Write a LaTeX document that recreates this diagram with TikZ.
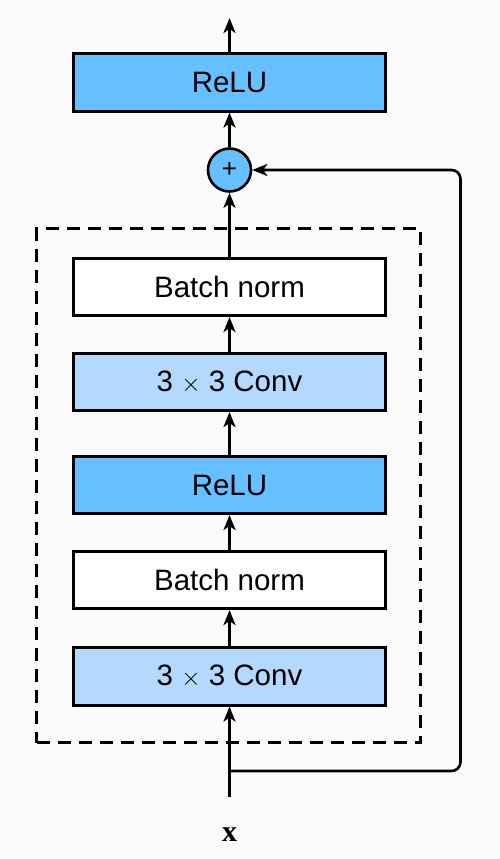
\documentclass[tikz,border=0pt]{standalone}
\usepackage[no-math]{fontspec}
\setmainfont{Liberation Sans}
\newfontfamily\xserif{Liberation Serif}
\usetikzlibrary{arrows.meta}
\definecolor{bg}{RGB}{250,250,250}
\definecolor{dblue}{RGB}{102,191,255}
\definecolor{lblue}{RGB}{179,217,255}
\begin{document}
\begin{tikzpicture}[x=1pt,y=-1pt]
\tikzset{
  layer/.style={draw, line width=2.6pt, minimum width=312pt, minimum height=57.5pt, inner sep=0pt, font=\fontsize{29.5}{34}\selectfont},
  reluL/.style={layer, fill=dblue},
  convL/.style={layer, fill=lblue},
  bnL/.style={layer, fill=white},
  addnode/.style={circle, draw, line width=2.6pt, fill=dblue, minimum size=43pt, inner sep=0pt, font=\fontsize{26}{30}\selectfont},
  arr/.style={line width=2.6pt, -{Stealth[length=15pt, width=12pt, inset=4pt]}},
  dashbox/.style={draw, line width=2.6pt, dash pattern=on 13pt off 8pt, minimum width=384pt, minimum height=514pt, inner sep=0pt}
}
\useasboundingbox[fill=bg] (0,0) rectangle (500,859);
\node[dashbox] (block) at (228.5,485.5) {};
\node[reluL] (relu2) at (229.5,82.5) {ReLU};
\node[addnode] (plus) at (229.5,170) {+};
\node[bnL] (bn2) at (229.5,287) {Batch norm};
\node[convL] (conv2) at (229.5,382) {3 $\times$ 3 Conv};
\node[reluL] (relu1) at (229.5,485) {ReLU};
\node[bnL] (bn1) at (229.5,580) {Batch norm};
\node[convL] (conv1) at (229.5,676.5) {3 $\times$ 3 Conv};
\node[font=\fontsize{30}{34}\xserif\bfseries] (xlab) at (229.5,835) {x};
\coordinate (in) at (229.5,797);
\coordinate (split) at (229.5,771);
\coordinate (out) at (229.5,18);
\coordinate (cR) at (460.5,771);
\draw[arr] (in) -- (conv1.south);
\draw[arr] (conv1.north) -- (bn1.south);
\draw[arr] (bn1.north) -- (relu1.south);
\draw[arr] (relu1.north) -- (conv2.south);
\draw[arr] (conv2.north) -- (bn2.south);
\draw[arr] (bn2.north) -- (plus.south);
\draw[arr] (plus.north) -- (relu2.south);
\draw[arr] (relu2.north) -- (out);
\draw[arr, rounded corners=9pt] (split) -- (cR) |- (plus.east);
\end{tikzpicture}
\end{document}
